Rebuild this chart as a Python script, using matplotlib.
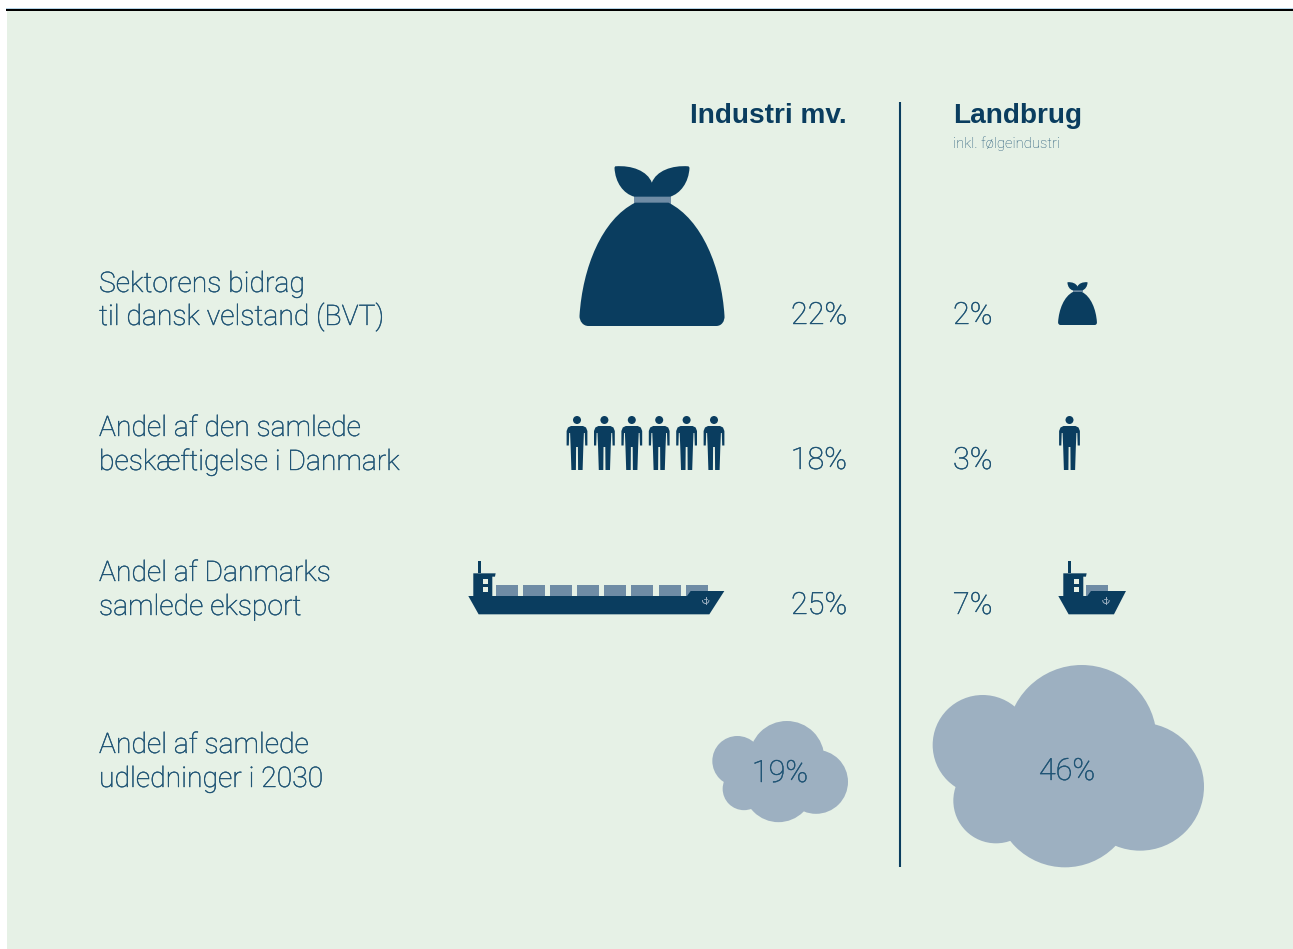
import matplotlib
matplotlib.use("Agg")
import matplotlib.pyplot as plt
import numpy as np
from matplotlib.patches import Circle, PathPatch, Polygon, Rectangle
from matplotlib.path import Path
from matplotlib.transforms import Affine2D
import matplotlib.patheffects as pe

# Data
row_labels = [
    ["Sektorens bidrag", "til dansk velstand (BVT)"],
    ["Andel af den samlede", "beskæftigelse i Danmark"],
    ["Andel af Danmarks", "samlede eksport"],
    ["Andel af samlede", "udledninger i 2030"],
]
industri_pct = ["22%", "18%", "25%", "19%"]
landbrug_pct = ["2%", "3%", "7%", "46%"]
people_count = [6, 1]
container_count = [8, 1]

DARK = "#0A3D5F"
MID = "#6F8CA5"
CLOUD = "#9DB0C1"
BG = "#E6F1E6"
TEXT = "#1E5374"

FONT = "Roboto"
BOLD_FONT = "Liberation Sans"

fig = plt.figure(figsize=(12.93, 9.49), dpi=100, facecolor="white")
ax = fig.add_axes([0, 0, 1, 1])
ax.set_xlim(0, 1293)
ax.set_ylim(949, 0)
ax.axis("off")

# background and top rule
ax.add_patch(Rectangle((7, 11), 1286, 938, fc=BG, ec="none"))
ax.add_patch(Rectangle((6, 8), 1287, 1, fc="#B5D5E8", ec="none"))
ax.add_patch(Rectangle((6, 9), 1287, 2, fc="black", ec="none"))
ax.plot([900, 900], [102, 867], color=DARK, lw=1.5, solid_capstyle="butt")


def bag(cx, bottom, s):
    # shape measured from the big bag, z = pixels*3
    T = Affine2D().translate(-275.5, -525).scale(s / 3).translate(cx, bottom)
    body = Path(
        [(85, 525), (468, 525), (485, 525), (494, 510), (493, 495),
         (484, 350), (425, 205), (325, 155), (225, 155),
         (125, 205), (67, 350), (58, 495), (58, 510), (68, 525), (85, 525)],
        [Path.MOVETO, Path.LINETO, Path.CURVE4, Path.CURVE4, Path.CURVE4,
         Path.CURVE4, Path.CURVE4, Path.CURVE4, Path.LINETO,
         Path.CURVE4, Path.CURVE4, Path.CURVE4, Path.CURVE4, Path.CURVE4, Path.CURVE4],
    )
    leaves = Path(
        [(222, 137), (190, 128), (165, 95), (163, 50), (165, 46),
         (215, 42), (262, 60), (275, 95),
         (288, 60), (335, 42), (385, 46), (388, 50),
         (386, 95), (360, 128), (330, 137), (222, 137)],
        [Path.MOVETO, Path.CURVE4, Path.CURVE4, Path.CURVE4, Path.LINETO,
         Path.CURVE4, Path.CURVE4, Path.CURVE4,
         Path.CURVE4, Path.CURVE4, Path.CURVE4, Path.LINETO,
         Path.CURVE4, Path.CURVE4, Path.CURVE4, Path.CLOSEPOLY],
    )
    band = Path([(220, 136), (332, 136), (332, 158), (220, 158), (220, 136)])
    ax.add_patch(PathPatch(band.transformed(T), fc=MID, ec="none"))
    ax.add_patch(PathPatch(body.transformed(T), fc=DARK, ec="none"))
    ax.add_patch(PathPatch(leaves.transformed(T), fc=DARK, ec="none"))


def person(cx, top):
    ax.add_patch(Circle((cx, top + 4), 4, fc=DARK, ec="none"))
    half = [(0, 10), (6, 10), (9, 11.5), (10.4, 15), (10.4, 29.5), (8.2, 29.5),
            (7.8, 17), (6.9, 17), (6.3, 32), (5.6, 54), (1.1, 54), (0.9, 31), (0, 31)]
    pts = [(cx + x, top + y) for x, y in half]
    pts += [(cx - x, top + y) for x, y in half[::-1]]
    ax.add_patch(Polygon(pts, closed=True, fc=DARK, ec="none"))


def ship(x0, n, tower_w, bow_foot, bow_tip):
    # z coords relative to hull left tip, pixels*3
    def X(z):
        return x0 + z / 3

    def Y(z):
        return 550 + z / 3

    cont_x0 = 83
    pitch = 81.3
    cont_w = 66
    for i in range(n):
        ax.add_patch(Rectangle((X(cont_x0 + i * pitch), Y(104)), cont_w / 3, 33 / 3, fc=MID, ec="none"))
    end = cont_x0 + (n - 1) * pitch + cont_w
    hull = [(0, 138), (31, 193), (end + bow_foot, 193), (end + bow_tip, 123), (end - 51, 123), (end - 62, 138)]
    ax.add_patch(Polygon([(X(a), Y(b)) for a, b in hull], closed=True, fc=DARK, ec="none"))
    tower = [(15, 139), (15, 70), (15 + tower_w + 10, 70), (15 + tower_w + 8, 80),
             (15 + tower_w, 80), (15 + tower_w, 139)]
    ax.add_patch(Polygon([(X(a), Y(b)) for a, b in tower], closed=True, fc=DARK, ec="none"))
    ax.add_patch(Rectangle((X(30), Y(32)), 7 / 3, 38 / 3, fc=DARK, ec="none"))
    for wy in (88, 110):
        ax.add_patch(Rectangle((X(15 + tower_w - 28), Y(wy)), 14 / 3, 15 / 3, fc=BG, ec="none"))
    # anchor
    ax_c, ay_c = X(end - 6), Y(150)
    ax.plot([ax_c, ax_c], [ay_c - 3, ay_c + 3.5], color=CLOUD, lw=0.7)
    ax.plot([ax_c - 1.5, ax_c + 1.5], [ay_c - 1.5, ay_c - 1.5], color=CLOUD, lw=0.6)
    t = np.linspace(0, np.pi, 20)
    ax.plot(ax_c + 3.2 * np.cos(t), ay_c + 0.5 + 3 * np.sin(t), color=CLOUD, lw=0.7)


def cloud(cx, cy, s):
    # circles measured off the big cloud, relative to its label position
    circles = [(188, 270, 150), (485, 255, 225), (660, 395, 192),
               (435, 427, 210), (228, 437, 128)]
    for a, b, r in circles:
        ax.add_patch(Circle((cx + (a - 441) / 3 * s, cy + (b - 342) / 3 * s), r / 3 * s, fc=CLOUD, ec="none"))


# icons
bag(652, 326, 1.0)
bag(1077.5, 325, 0.268)

for i in range(people_count[0]):
    person(577 + i * 27.4, 416)
for i in range(people_count[1]):
    person(1069.5, 416)

ship(468.3, container_count[0], 57, 5, 50)
ship(1058.3, container_count[1], 60, 18, 54)

cloud(779.5, 773, 0.5)
cloud(1067, 769, 1.0)

# light text drawn a touch heavier, Roboto Light is thinner than the original
thick = [pe.withStroke(linewidth=0.3, foreground=TEXT)]

# texts
ax.text(847, 115.5, "Industri mv.", fontsize=20.2, fontweight="bold", color=DARK, family=BOLD_FONT, ha="right", va="center")
ax.text(953, 115.5, "Landbrug", fontsize=20.2, fontweight="bold", color=DARK, family=BOLD_FONT, ha="left", va="center")
ax.text(953, 144, "inkl. følgeindustri", fontsize=10.6, color=TEXT, family=FONT, ha="left", va="center", fontweight="light")

label_y = [(292, 325), (436, 470), (581, 615), (753, 787)]
for lines, ys in zip(row_labels, label_y):
    for line, y in zip(lines, ys):
        ax.text(99, y, line, fontsize=20.4, color=TEXT, family=FONT, fontweight="light", ha="left", va="baseline", path_effects=thick)

pct_y = [324, 469, 614]
for i, y in enumerate(pct_y):
    ax.text(847, y, industri_pct[i], fontsize=22, color=TEXT, family=FONT, fontweight="light", ha="right", va="baseline", path_effects=thick)
    ax.text(953, y, landbrug_pct[i], fontsize=22, color=TEXT, family=FONT, fontweight="light", ha="left", va="baseline", path_effects=thick)
ax.text(780, 782, industri_pct[3], fontsize=22, color=TEXT, family=FONT, fontweight="light", ha="center", va="baseline", path_effects=thick)
ax.text(1067, 780, landbrug_pct[3], fontsize=22, color=TEXT, family=FONT, fontweight="light", ha="center", va="baseline", path_effects=thick)

fig.savefig("out.png", dpi=100)
